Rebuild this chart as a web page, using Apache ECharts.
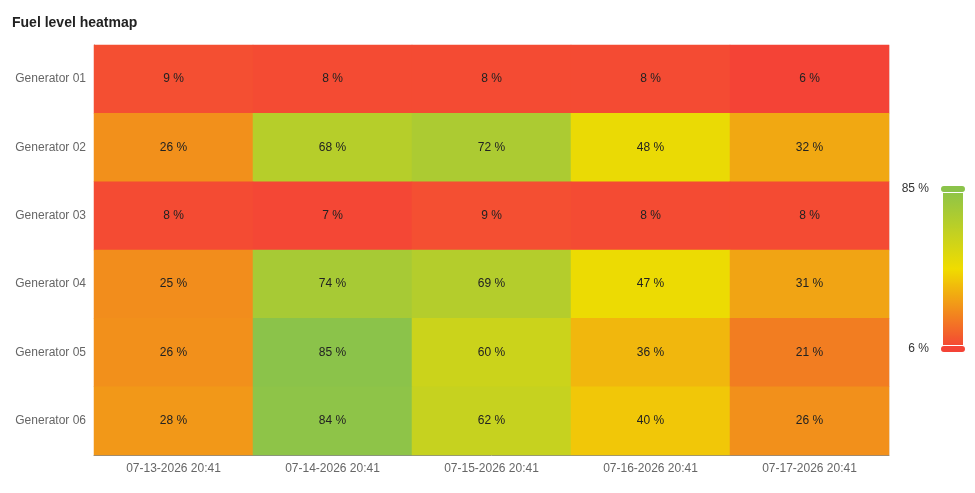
<!DOCTYPE html>
<html>
<head>
<meta charset="utf-8">
<style>
  html, body { margin: 0; padding: 0; background: #fff; }
  #myChart { width: 975px; height: 493px; }
</style>
</head>
<body>
<div id="myChart"></div>
<script src="https://cdn.jsdelivr.net/npm/echarts@6/dist/echarts.min.js"></script>
<script>
// dates along the x axis
var dates = ['07-13-2026 20:41', '07-14-2026 20:41', '07-15-2026 20:41', '07-16-2026 20:41', '07-17-2026 20:41']
var generators = ['Generator 01', 'Generator 02', 'Generator 03', 'Generator 04', 'Generator 05', 'Generator 06']

// fuel level (%) per generator, one value per date
var gen01 = [9, 8, 8, 8, 6]
var gen02 = [26, 68, 72, 48, 32]
var gen03 = [8, 7, 9, 8, 8]
var gen04 = [25, 74, 69, 47, 31]
var gen05 = [26, 85, 60, 36, 21]
var gen06 = [28, 84, 62, 40, 26]

var rows = [gen01, gen02, gen03, gen04, gen05, gen06]
var heatData = []
rows.forEach(function (row, y) {
  row.forEach(function (v, x) {
    heatData.push([x, y, v])
  })
})

var myChart = echarts.init(document.getElementById('myChart'))
myChart.setOption({
  textStyle: { fontFamily: 'Liberation Sans' },
  title: {
    text: 'Fuel level heatmap',
    left: 7,
    top: 11,
    textStyle: { fontSize: 14, fontWeight: 'bold', color: '#222', fontFamily: 'Liberation Sans' },
  },
  grid: {
    left: 94,
    right: 86,
    top: 45,
    bottom: 38,
  },
  xAxis: {
    type: 'category',
    data: dates,
    axisLine: { lineStyle: { color: '#888' } },
    axisTick: { show: false },
    axisLabel: { color: '#666', fontSize: 12, margin: 8 },
    splitLine: { show: true, lineStyle: { color: '#eee' } },
  },
  yAxis: {
    type: 'category',
    data: generators,
    inverse: true,
    axisLine: { show: true, lineStyle: { color: '#888' } },
    axisTick: { show: false },
    axisLabel: { color: '#666', fontSize: 12, margin: 8 },
  },
  visualMap: {
    type: 'continuous',
    min: 6,
    max: 85,
    calculable: true,
    orient: 'vertical',
    right: -6,
    top: 168,
    itemWidth: 20,
    itemHeight: 160,
    formatter: '{value} %',
    textStyle: { color: '#333', fontSize: 12 },
    inRange: {
      color: ['#F44336', '#F0DC00', '#8BC34A'],
    },
  },
  series: [
    {
      type: 'heatmap',
      data: heatData,
      label: {
        show: true,
        color: '#222',
        fontSize: 12,
        formatter: function (p) {
          return p.value[2] + ' %'
        },
      },
    },
  ],
})
</script>
</body>
</html>
